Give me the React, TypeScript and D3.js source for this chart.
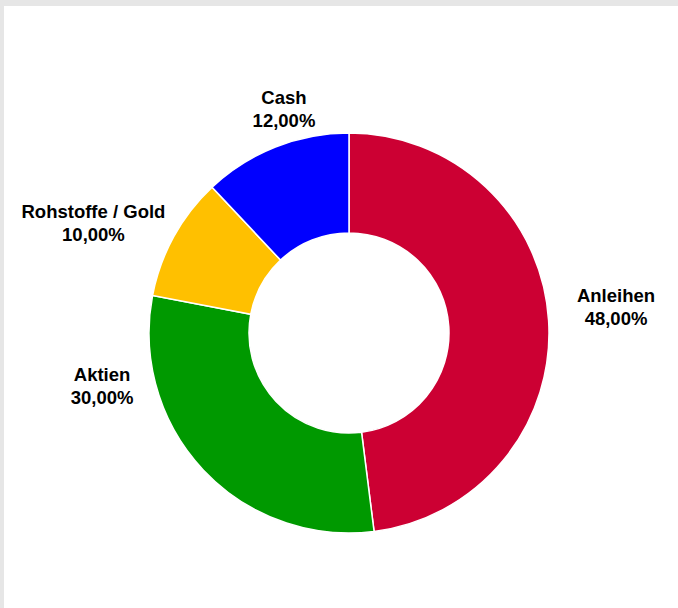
import React from "react";
import * as d3 from "d3";

const categories = ["Anleihen", "Aktien", "Rohstoffe / Gold", "Cash"];
const values = [48, 30, 10, 12];
const colors = ["#CC0033", "#009900", "#FFC000", "#0000FF"];
// label nudges (layout), relative to label-arc centroid
const labelNudges: [number, number][] = [
  [17.5, -10.3],
  [-64.7, -118],
  [-36.5, 10.5],
  [27, 8.5],
];

const W = 678;
const H = 608;
const CX = 349;
const CY = 333;
const R_OUT = 200;
const R_IN = 100;
const R_LABEL = 250;

const fmt = (v: number) => v.toFixed(2).replace(".", ",") + "%";

export default function App() {
  const data = categories.map((c, i) => ({ name: c, value: values[i], color: colors[i], nudge: labelNudges[i] }));
  const pie = d3
    .pie<any>()
    .value((d) => d.value)
    .sort(null)
    .startAngle(0)
    .endAngle(2 * Math.PI);
  const arcs = pie(data);
  const arc = d3.arc<any>().innerRadius(R_IN).outerRadius(R_OUT);
  const labelArc = d3.arc<any>().innerRadius(R_LABEL).outerRadius(R_LABEL);

  return (
    <svg
      width={W}
      height={H}
      style={{ position: "absolute", left: 0, top: 0, display: "block" }}
      fontFamily="'Liberation Sans', Arial, sans-serif"
    >
      <rect x={0} y={0} width={W} height={H} fill="#E6E6E6" />
      <rect x={4} y={6} width={W - 4} height={H - 6} fill="#FFFFFF" />
      <g transform={`translate(${CX},${CY})`}>
        {arcs.map((a, i) => (
          <path key={i} d={arc(a) as string} fill={a.data.color} stroke="#FFFFFF" strokeWidth={1.5} />
        ))}
        {arcs.map((a, i) => {
          const [x, y] = labelArc.centroid(a);
          const cx = x + a.data.nudge[0];
          const cy = y + a.data.nudge[1];
          return (
            <text key={"l" + i} textAnchor="middle" fontSize={18.5} fontWeight="bold" fill="#000">
              <tspan x={cx} y={cy - 5}>{a.data.name}</tspan>
              <tspan x={cx} y={cy + 18}>{fmt(a.data.value)}</tspan>
            </text>
          );
        })}
      </g>
    </svg>
  );
}
